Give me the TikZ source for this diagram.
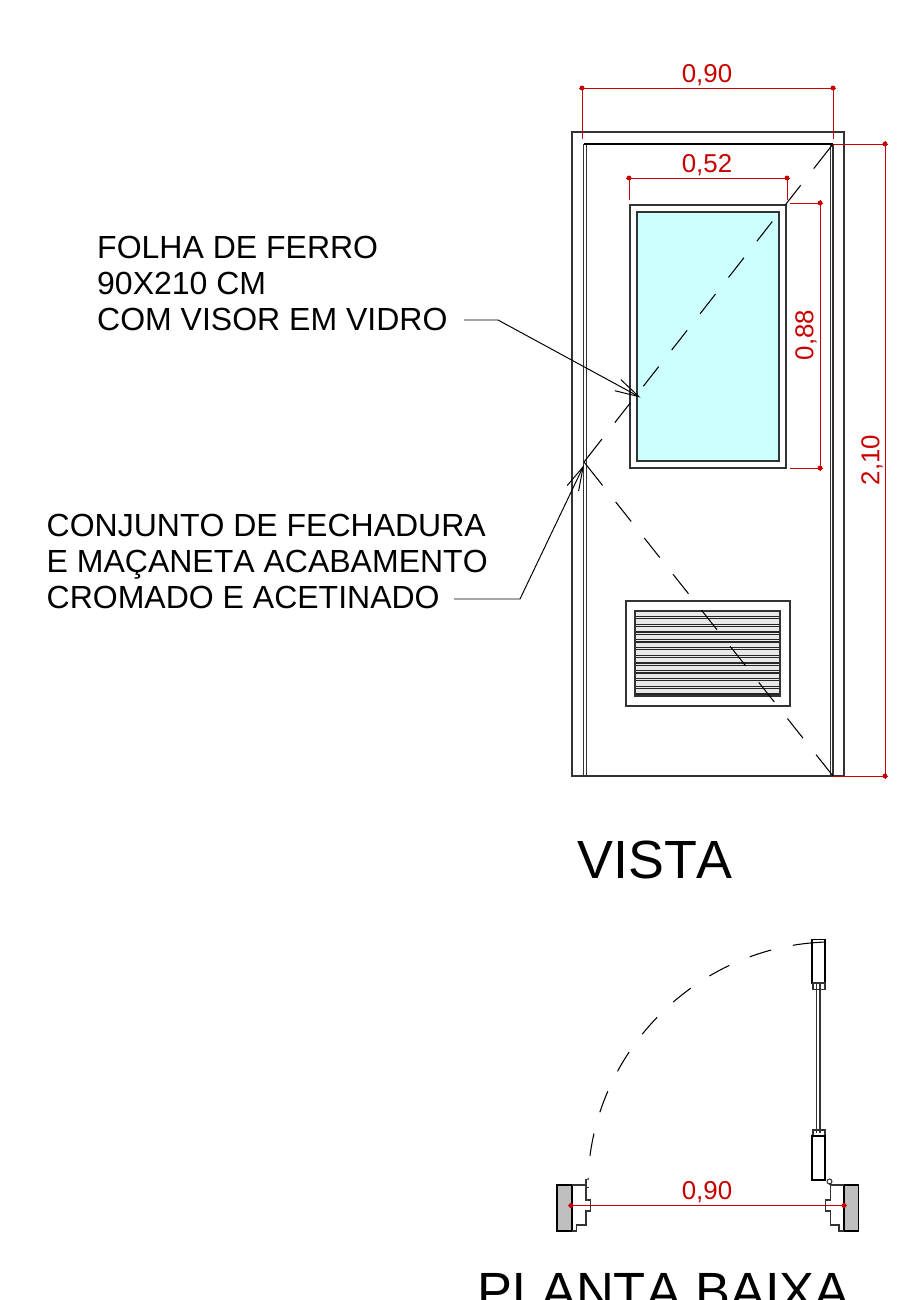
\documentclass[tikz,border=0pt]{standalone}
\usepackage{fontspec}
\setmainfont[Kerning=Off]{Liberation Sans}
\usetikzlibrary{arrows.meta}
\definecolor{vidro}{HTML}{CCFFFF}
\definecolor{cota}{HTML}{C80000}
\begin{document}
\begin{tikzpicture}[x=0.01cm,y=-0.01cm,
                wire/.style={black!80,line width=0.3pt},
                heavy/.style={black,line width=0.5pt},
                slat/.style={black!85,line width=0.3pt},
                hinge/.style={black,line width=0.3pt,dash pattern=on #1 off 6pt on 7.1pt off 6pt on 7.1pt off 6pt on 7.1pt off 6pt on 7.1pt off 6pt on 7.1pt off 6pt on 7.1pt off 6pt on 7.1pt off 6pt on 9pt off 6pt},
                swing/.style={black,line width=0.3pt,dash pattern=on 9.5pt off 6.3pt on 6.4pt off 6.3pt on 6.4pt off 6.3pt on 6.4pt off 6.3pt on 6.4pt off 6.3pt on 6.4pt off 6.3pt on 6.4pt off 6.3pt on 6.4pt off 6.3pt on 6.4pt off 20pt},
                leader/.style={black,line width=0.28pt,-{Straight Barb[length=6.8pt,width=3.6pt]}},
                dimline/.style={cota,line width=0.25pt,shorten <=-0.9pt,shorten >=-0.9pt},
                witness/.style={cota,line width=0.25pt},
                note/.style={anchor=north west,align=left,inner sep=0pt,font=\fontsize{9.1pt}{10.24pt}\selectfont},
                dimtext/.style={cota,inner sep=0pt,font=\fontsize{7.35pt}{8pt}\selectfont},
                title/.style={inner sep=0pt,anchor=base}]
                \path [clip,use as bounding box] (0,0) rectangle (905,1300);
                \fill [white] (0,0) rectangle (905,1300);
                % vista
                \draw [wire] (584,776) -- (572,776) -- (572,132) -- (844,132) -- (844,776) -- (833,776);
                \draw [wire] (583.5,776) -- (583.5,144) (833,144) -- (833,776) -- (583.5,776);
                \draw [wire] (586.5,776) -- (586.5,145) (830.5,776) -- (830.5,145);
                \draw [heavy] (584,144) -- (833,144);
                \draw [wire,fill=white] (630,205) rectangle (786,468);
                \draw [wire,fill=vidro] (637,212) rectangle (779,461);
                \draw [wire] (626,601) rectangle (790,706);
                \fill [black!9] (635,611) rectangle (780,696);
                \foreach \y in {611,618.75,...,690} {
                    \draw [slat] (635,\y) -- (780,\y) (635,\y+5.5) -- (780,\y+5.5);
                }
                \draw [wire] (635,611) rectangle (780,696);
                \coordinate (latch) at (584,462);
                \draw [hinge=8.9pt] (833,144) -- (latch);
                \draw [hinge=8.5pt] (latch) -- (833,776);
                % notas
                \node [note] (folha) at (96.5,235.5) {FOLHA DE FERRO\\90X210 CM\\COM VISOR EM VIDRO};
                \node [note] (conjunto) at (46,513.5) {CONJUNTO DE FECHADURA\\E MAÇANETA ACABAMENTO\\CROMADO E ACETINADO};
                \coordinate (folhaStart) at (464,320);
                \coordinate (folhaBend) at (498,320);
                \coordinate (folhaTip) at (640.5,397.5);
                \coordinate (conjuntoStart) at (454,599);
                \coordinate (conjuntoBend) at (520,599);
                \coordinate (conjuntoTip) at (584,465);
                \draw [leader] (folhaStart) -- (folhaBend) -- (folhaTip);
                \draw [leader] (conjuntoStart) -- (conjuntoBend) -- (conjuntoTip);
                % cotas vista
                \coordinate (topL) at (582,88);
                \coordinate (topR) at (833,88);
                \coordinate (visorL) at (629,178);
                \coordinate (visorR) at (787,178);
                \coordinate (visorT) at (820,203);
                \coordinate (visorB) at (820,468);
                \coordinate (totalT) at (885,144);
                \coordinate (totalB) at (885,776);
                \draw [dimline] (topL) -- (topR);
                \draw [dimline] (visorL) -- (visorR);
                \draw [dimline] (visorT) -- (visorB);
                \draw [dimline] (totalT) -- (totalB);
                \draw [witness] (topL) -- (582,139) (topR) -- (833,139);
                \draw [witness] (visorL) -- (629,200) (visorR) -- (787,200);
                \draw [witness] (790,203) -- (823,203) (790,468) -- (823,468);
                \draw [witness] (833,144) -- (888,144) (833,776) -- (888,776);
                \node [dimtext] (labelTop) at (707,75) {0,90};
                \node [dimtext] (labelVisor) at (707,165) {0,52};
                \node [dimtext,rotate=90] (labelAltura) at (806,335) {0,88};
                \node [dimtext,rotate=90] (labelTotal) at (872,460) {2,10};
                \node [title,font=\fontsize{15.3pt}{18pt}\selectfont] (vista) at (655,878) {VISTA};
                % planta
                \draw [swing,domain=90:180,samples=70] plot ({826+(238+3.5*sin(2*\x))*cos(\x)},{1180-(238+3.5*sin(2*\x))*sin(\x)});
                \draw [heavy,fill=black!25] (557,1185) rectangle (572,1231);
                \draw [heavy,fill=black!25] (844,1185) rectangle (858.5,1231);
                \draw [wire] (572,1185) -- (586,1185) -- (586,1200) -- (590.5,1200) -- (590.5,1211) -- (586,1211) -- (586,1225) -- (576.5,1225) -- (576.5,1231) -- (572,1231);
                \draw [wire] (586,1179) -- (586,1188) (586,1187.5) -- (588.5,1187.5);
                \draw [wire] (844,1185) -- (830.5,1185) -- (830.5,1200) -- (825.5,1200) -- (825.5,1211) -- (830.5,1211) -- (830.5,1225) -- (839,1225) -- (839,1231) -- (844,1231);
                \draw [heavy] (812,939.5) rectangle (825,983);
                \draw [wire] (813,983) rectangle (825,989.5);
                \draw [wire] (816.8,983) -- (816.8,1133) (820,983) -- (820,1133);
                \draw [wire] (813,1130) rectangle (825,1136);
                \draw [heavy] (812,1136) rectangle (825,1180);
                \draw [heavy] (810.5,1180) -- (825,1180);
                \draw [wire,fill=white] (829.5,1181.5) circle (0.7pt);
                \draw [wire] (829.5,1183) -- (829.5,1185);
                \coordinate (vaoL) at (571,1205.5);
                \coordinate (vaoR) at (844,1205.5);
                \draw [dimline] (vaoL) -- (vaoR);
                \node [dimtext] (labelVao) at (707,1192) {0,90};
                \node [title,font=\fontsize{14.9pt}{18pt}\selectfont] (planta) at (663.5,1309) {PLANTA BAIXA};
                \foreach \p in {topL,topR,visorL,visorR,visorT,visorB,totalT,totalB,vaoL,vaoR} {
                    \fill [cota] (\p) circle (0.7pt);
                }
            \end{tikzpicture}
\end{document}
